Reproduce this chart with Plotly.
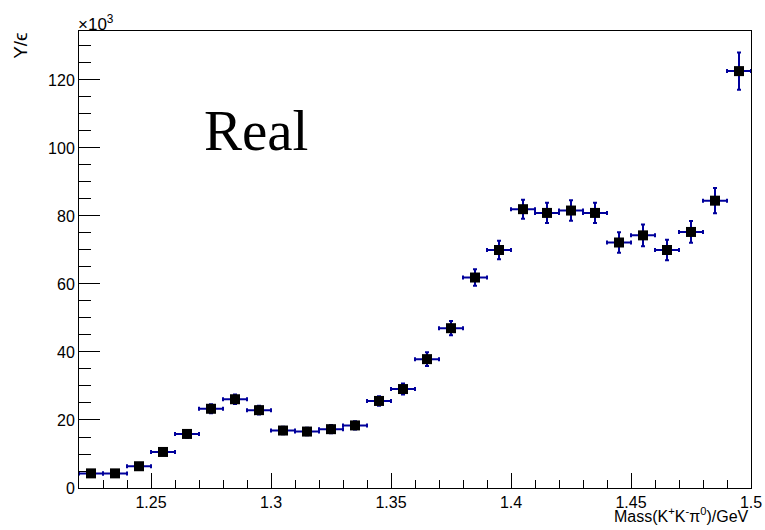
import plotly.graph_objects as go

# Histogram bin centres (GeV), bin contents and errors (in units of 10^3)
mass_centres = [1.225, 1.235, 1.245, 1.255, 1.265, 1.275, 1.285, 1.295, 1.305, 1.315,
                1.325, 1.335, 1.345, 1.355, 1.365, 1.375, 1.385, 1.395, 1.405, 1.415,
                1.425, 1.435, 1.445, 1.455, 1.465, 1.475, 1.485, 1.495]
yields = [4.3, 4.3, 6.4, 10.6, 15.9, 23.3, 26.1, 22.9, 16.9, 16.6,
          17.3, 18.4, 25.6, 29.1, 37.9, 47.0, 61.9, 70.0, 82.0, 80.9,
          81.6, 80.9, 72.2, 74.3, 70.0, 75.3, 84.5, 122.6]
yield_errors = [0.5, 0.5, 0.7, 0.9, 1.1, 1.3, 1.4, 1.3, 1.1, 1.1,
                1.2, 1.2, 1.4, 1.6, 2.0, 2.1, 2.4, 2.7, 2.8, 3.0,
                3.0, 3.0, 3.0, 3.2, 3.0, 3.2, 3.7, 5.5]
half_bin = [0.005] * len(mass_centres)

x_ticks = [1.25, 1.3, 1.35, 1.4, 1.45, 1.5]
x_tick_text = ["1.25", "1.3", "1.35", "1.4", "1.45", "1.5"]
y_ticks = [0, 20, 40, 60, 80, 100, 120]

err_color = "#00009c"
sans = "Liberation Sans, Arial, sans-serif"

fig = go.Figure()
fig.add_trace(go.Scatter(
    x=mass_centres, y=yields, mode="markers",
    marker=dict(symbol="square", size=10, color="black"),
    error_x=dict(type="data", array=half_bin, color=err_color, thickness=2, width=2),
    error_y=dict(type="data", array=yield_errors, color=err_color, thickness=2, width=2),
    showlegend=False, cliponaxis=False,
))

tick_font = dict(family=sans, size=16, color="black")

fig.update_layout(
    width=765, height=530,
    margin=dict(l=79, r=14, t=31, b=42, autoexpand=False),
    paper_bgcolor="white", plot_bgcolor="white",
    xaxis=dict(
        range=[1.22, 1.5], tickvals=x_ticks, ticktext=x_tick_text,
        ticks="inside", ticklen=15, tickwidth=1, tickcolor="black",
        minor=dict(dtick=0.01, tick0=1.22, ticks="inside", ticklen=8, tickwidth=1, tickcolor="black"),
        showgrid=False, zeroline=False, automargin=False,
        showline=True, linecolor="black", linewidth=1, mirror=True,
        tickfont=tick_font,
    ),
    yaxis=dict(
        range=[0, 134.4], tickvals=y_ticks,
        ticks="inside", ticklen=21, tickwidth=1, tickcolor="black",
        minor=dict(dtick=5, tick0=0, ticks="inside", ticklen=12, tickwidth=1, tickcolor="black"),
        showgrid=False, zeroline=False, automargin=False,
        showline=True, linecolor="black", linewidth=1, mirror=True,
        tickfont=tick_font,
    ),
    annotations=[
        dict(text="Mass(K<sup>+</sup>K<sup>-</sup>π<sup>0</sup>)/GeV", xref="paper", yref="paper",
             x=1.0, y=-0.085, xanchor="right", yanchor="bottom", showarrow=False,
             font=dict(family=sans, size=16, color="black")),
        dict(text="Y/ϵ", xref="paper", yref="paper", x=-0.088, y=1.0,
             xanchor="center", yanchor="top", textangle=-90, showarrow=False,
             font=dict(family=sans, size=19, color="black")),
        dict(text="×10<sup>3</sup>", xref="paper", yref="paper", x=-0.004, y=0.99,
             xanchor="left", yanchor="bottom", showarrow=False,
             font=dict(family=sans, size=17, color="black")),
        dict(text="Real", xref="paper", yref="paper", x=0.263, y=0.782,
             xanchor="center", yanchor="middle", showarrow=False,
             font=dict(family="Liberation Serif, Times New Roman, serif", size=57, color="black")),
    ],
)

fig.write_html("out.html")
